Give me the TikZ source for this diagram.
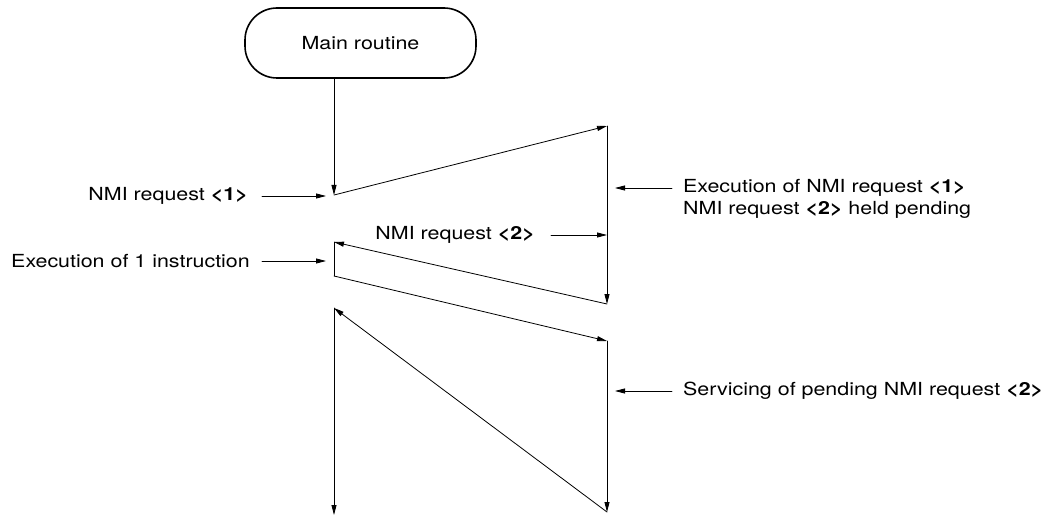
\documentclass[tikz,border=0pt]{standalone}
\usepackage{fontspec}
\setmainfont{TeX Gyre Heros}[FakeStretch=1.19]
\usetikzlibrary{arrows.meta,positioning}
\begin{document}
\begin{tikzpicture}[x=1pt, y=-1pt, line cap=round, line join=round,
    flow/.style={-{Triangle[length=10pt,width=5pt]}, line width=0.8pt},
    lbl/.style={font=\fontsize{18}{22}\selectfont, inner sep=0pt},
    start/.style={draw, line width=1.6pt, rounded corners=32pt, minimum width=231pt,
      minimum height=70pt, font=\fontsize{18}{22}\selectfont}]
  \useasboundingbox (0,0) rectangle (1045,516);
  \node[start] (main) at (360.5,43) {Main routine};
  % corners of the flow
  \coordinate (p1) at (334,195);
  \coordinate (p2) at (607,126);
  \coordinate (p3) at (607,304);
  \coordinate (p4) at (334,242);
  \coordinate (p5) at (334,276);
  \coordinate (p6) at (607,341);
  \coordinate (p7) at (607,512);
  \coordinate (p8) at (334,308);
  \coordinate (p9) at (334,515);
  \draw[flow] (main.south -| p1) -- (p1);
  \draw[flow] (p1) -- (p2);
  \draw[flow] (p2) -- (p3);
  \draw[flow] (p3) -- (p4);
  \draw[line width=0.8pt] (p4) -- (p5);
  \draw[flow] (p5) -- (p6);
  \draw[flow] (p6) -- (p7);
  \draw[flow] (p7) -- (p8);
  \draw[flow] (p8) -- (p9);
  % labels
  \node[lbl, anchor=east] (req1) at (248,196) {NMI request \textbf{<1>}};
  \node[lbl, anchor=east] (exec1) at (250,261) {Execution of 1 instruction};
  \node[lbl, anchor=east] (req2) at (535,235) {NMI request \textbf{<2>}};
  \node[lbl, anchor=west] (execa) at (683,188) {Execution of NMI request \textbf{<1>}};
  \node[lbl, anchor=west] (execb) at (683,210) {NMI request \textbf{<2>} held pending};
  \node[lbl, anchor=west] (serv) at (683,391) {Servicing of pending NMI request \textbf{<2>}};
  \draw[flow] ([xshift=14pt]req1.east) -- ([xshift=-8pt]req1.east -| p1);
  \draw[flow] ([xshift=12pt]exec1.east) -- ([xshift=-8pt]exec1.east -| p1);
  \draw[flow] ([xshift=16pt]req2.east) -- (req2.east -| p3);
  \draw[flow] ([xshift=-11pt]execa.west) -- ([xshift=8pt]execa.west -| p3);
  \draw[flow] ([xshift=-11pt]serv.west) -- ([xshift=8pt]serv.west -| p6);
\end{tikzpicture}
\end{document}
